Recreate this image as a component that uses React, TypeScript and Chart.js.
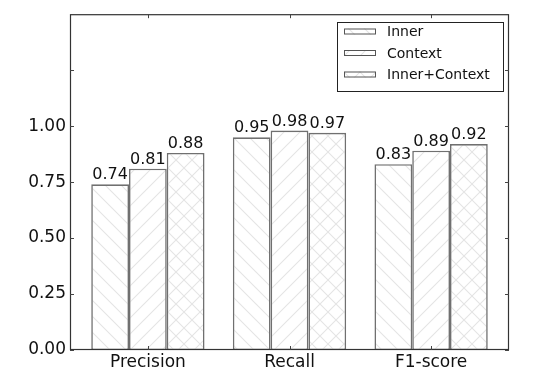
import React, { useEffect, useRef } from "react";
import { Chart, registerables } from "chart.js";

Chart.register(...registerables);

const categories = ["Precision", "Recall", "F1-score"];
const seriesNames = ["Inner", "Context", "Inner+Context"];
const innerValues = [0.74, 0.95, 0.83];
const contextValues = [0.81, 0.98, 0.89];
const bothValues = [0.88, 0.97, 0.92];
const yTicks = [0, 0.25, 0.5, 0.75, 1.0, 1.25, 1.5];
const hatchKinds = ["\\", "/", "x"];

const FONT = "'DejaVu Sans', sans-serif";

function makePattern(kind: string): CanvasPattern | string {
  const s = 16;
  const c = document.createElement("canvas");
  c.width = s;
  c.height = s;
  const ctx = c.getContext("2d");
  if (!ctx) return "#fff";
  ctx.fillStyle = "#ffffff";
  ctx.fillRect(0, 0, s, s);
  ctx.strokeStyle = "#e4e4e4";
  ctx.lineWidth = 1.1;
  ctx.beginPath();
  if (kind === "/" || kind === "x") {
    ctx.moveTo(-1, s + 1);
    ctx.lineTo(s + 1, -1);
    ctx.moveTo(-2, 2);
    ctx.lineTo(2, -2);
    ctx.moveTo(s - 2, s + 2);
    ctx.lineTo(s + 2, s - 2);
  }
  if (kind === "\\" || kind === "x") {
    ctx.moveTo(-1, -1);
    ctx.lineTo(s + 1, s + 1);
    ctx.moveTo(-2, s - 2);
    ctx.lineTo(2, s + 2);
    ctx.moveTo(s - 2, -2);
    ctx.lineTo(s + 2, 2);
  }
  ctx.stroke();
  const p = ctx.createPattern(c, "repeat");
  return p || "#fff";
}

export default function App() {
  const canvasRef = useRef<HTMLCanvasElement>(null);

  useEffect(() => {
    document.body.style.margin = "0";
    const canvas = canvasRef.current;
    if (!canvas) return;
    const patterns = hatchKinds.map(makePattern);
    const seriesValues = [innerValues, contextValues, bothValues];

    const framePlugin = {
      id: "framePlugin",
      afterDatasetsDraw(chart: any) {
        const ctx = chart.ctx;
        const a = chart.chartArea;
        // value labels
        ctx.save();
        ctx.fillStyle = "#111";
        ctx.font = `16px ${FONT}`;
        ctx.textAlign = "center";
        ctx.textBaseline = "alphabetic";
        chart.data.datasets.forEach((ds: any, di: number) => {
          const meta = chart.getDatasetMeta(di);
          meta.data.forEach((el: any, i: number) => {
            const v = ds.data[i].y;
            ctx.fillText(v.toFixed(2), el.x, el.y - 5);
          });
        });
        ctx.restore();
        // frame
        ctx.save();
        ctx.strokeStyle = "#333";
        ctx.lineWidth = 1.2;
        ctx.strokeRect(a.left + 0.5, a.top + 0.5, a.right - a.left - 1, a.bottom - a.top - 1);
        // inward ticks
        ctx.lineWidth = 1;
        ctx.strokeStyle = "#444";
        const ys = chart.scales.y;
        const xs = chart.scales.x;
        ctx.beginPath();
        yTicks.forEach((t) => {
          const py = Math.round(ys.getPixelForValue(t)) + 0.5;
          ctx.moveTo(a.left, py);
          ctx.lineTo(a.left + 4, py);
          ctx.moveTo(a.right, py);
          ctx.lineTo(a.right - 4, py);
        });
        categories.forEach((_, i) => {
          const px = Math.round(xs.getPixelForValue(i)) + 0.5;
          ctx.moveTo(px, a.bottom);
          ctx.lineTo(px, a.bottom - 4);
          ctx.moveTo(px, a.top);
          ctx.lineTo(px, a.top + 4);
        });
        ctx.stroke();
        ctx.restore();
        // legend
        ctx.save();
        const lx = 337, ly = 22, lw = 166, lh = 69;
        ctx.fillStyle = "#fff";
        ctx.fillRect(lx, ly, lw, lh);
        ctx.strokeStyle = "#222";
        ctx.lineWidth = 1;
        ctx.strokeRect(lx + 0.5, ly + 0.5, lw, lh);
        ctx.font = `14px ${FONT}`;
        ctx.textAlign = "left";
        ctx.textBaseline = "middle";
        seriesNames.forEach((name, i) => {
          const cy = 31.5 + i * 21.5;
          ctx.fillStyle = patterns[i] as any;
          ctx.fillRect(344, cy - 3, 31, 6);
          ctx.strokeStyle = "#555";
          ctx.strokeRect(344.5, cy - 2.5, 31, 5);
          ctx.fillStyle = "#111";
          ctx.fillText(name, 387, cy + 1);
        });
        ctx.restore();
      },
    };

    const chart = new Chart(canvas, {
      type: "bar",
      data: {
        datasets: seriesNames.map((name, di) => ({
          label: name,
          data: categories.map((_, i) => ({ x: i, y: seriesValues[di][i] })),
          backgroundColor: patterns[di] as any,
          borderColor: "#707070",
          borderWidth: 1.6,
          borderSkipped: false,
          categoryPercentage: 0.8,
          barPercentage: 1.0,
        })),
      },
      options: {
        responsive: false,
        animation: false,
        layout: { padding: { top: 14, right: 43, left: 0, bottom: 0 } },
        plugins: {
          legend: { display: false },
          tooltip: { enabled: false },
        },
        scales: {
          x: {
            type: "linear",
            min: -0.55,
            max: 2.55,
            offset: false,
            grid: { display: false, drawTicks: false, offset: false },
            border: { display: false },
            afterBuildTicks: (axis: any) => {
              axis.ticks = categories.map((_, i) => ({ value: i }));
            },
            afterFit: (scale: any) => {
              scale.height = 33;
            },
            ticks: {
              padding: 2,
              color: "#111",
              font: { family: FONT, size: 17 },
              callback: (v: any) => categories[v as number] ?? "",
            },
          },
          y: {
            type: "linear",
            min: 0,
            max: 1.5,
            grid: { display: false, drawTicks: false },
            border: { display: false },
            afterBuildTicks: (axis: any) => {
              axis.ticks = yTicks.map((v) => ({ value: v }));
            },
            afterFit: (scale: any) => {
              scale.width = 70;
            },
            ticks: {
              padding: 4,
              color: "#111",
              font: { family: FONT, size: 17 },
              callback: (v: any) => ((v as number) <= 1.0001 ? (v as number).toFixed(2) : ""),
            },
          },
        },
      },
      plugins: [framePlugin],
    } as any);

    return () => chart.destroy();
  }, []);

  return (
    <div style={{ width: 552, height: 383, background: "#fff" }}>
      <canvas ref={canvasRef} width={552} height={383} />
    </div>
  );
}
